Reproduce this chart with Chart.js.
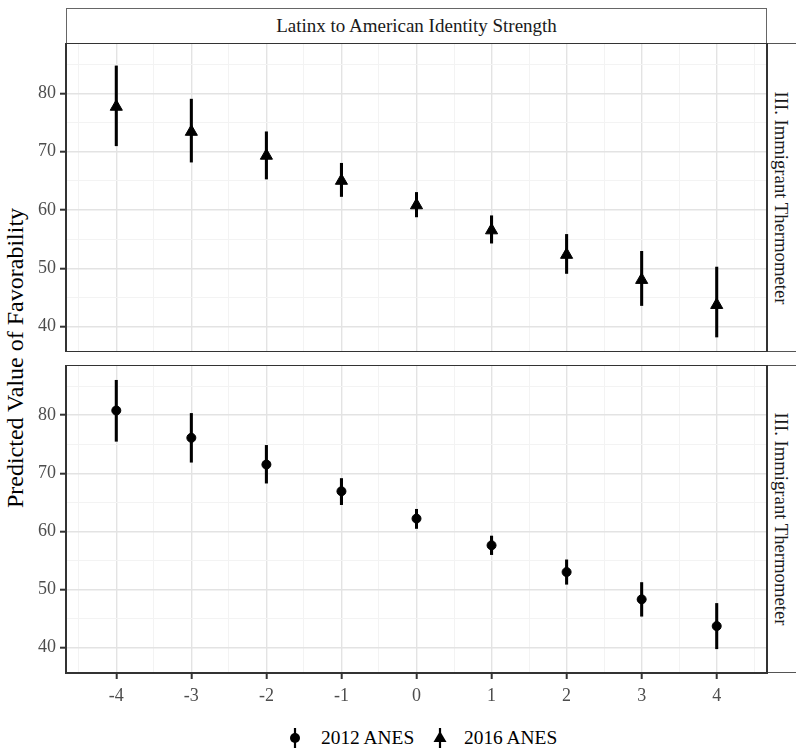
<!DOCTYPE html>
<html lang="en">
<head>
    <meta charset="UTF-8">
    <title>Predicted Value of Favorability</title>
    <script src="https://cdn.jsdelivr.net/npm/chart.js"></script>
    <style>
        body { margin: 0; background: #fff; }
        #wrap { position: relative; width: 796px; height: 750px; overflow: hidden; font-family: 'Liberation Serif', 'Times New Roman', serif; }
        #wrap canvas { position: absolute; left: 0; }
        .strip-top {
            position: absolute; left: 66px; top: 8px; width: 701px; height: 36px;
            box-sizing: border-box; border: 1.5px solid #666; background: #fff;
            text-align: center; line-height: 33px; font-size: 19px; color: #1a1a1a;
        }
        .strip-right {
            position: absolute; left: 766px; width: 50px;
            box-sizing: border-box; border: 1.5px solid #555; background: #fff;
        }
        .strip-right span {
            position: absolute; left: 14px; top: 50%; white-space: nowrap;
            transform: translate(-50%, -50%) rotate(90deg);
            font-size: 18.7px; color: #1a1a1a;
        }
        .y-title {
            position: absolute; left: 15px; top: 358px; white-space: nowrap;
            transform: translate(-50%, -50%) rotate(-90deg);
            font-size: 24px; color: #000;
        }
        .legend-item { position: absolute; top: 726px; height: 24px; display: flex; align-items: center; font-size: 19.4px; color: #000; }
    </style>
</head>
<body>
<div id="wrap">
    <div class="strip-top">Latinx to American Identity Strength</div>
    <div class="strip-right" style="top:43px;height:309px"><span>III. Immigrant Thermometer</span></div>
    <div class="strip-right" style="top:365px;height:308px"><span>III. Immigrant Thermometer</span></div>
    <div class="y-title">Predicted Value of Favorability</div>

    <canvas id="topChart" width="796" height="309" style="top:43px"></canvas>
    <canvas id="bottomChart" width="796" height="348" style="top:365px"></canvas>

    <!-- legend -->
    <div class="legend-item" style="left:289px">
        <svg width="12" height="24" style="margin-right:20px"><line x1="6" y1="2" x2="6" y2="22" stroke="#000" stroke-width="2.2"/><circle cx="6" cy="12" r="5" fill="#000"/></svg>
        <span>2012 ANES</span>
    </div>
    <div class="legend-item" style="left:433px">
        <svg width="14" height="24" style="margin-right:17px"><line x1="7" y1="2" x2="7" y2="22" stroke="#000" stroke-width="2.2"/><polygon points="7,5 13.5,16 0.5,16" fill="#000"/></svg>
        <span>2016 ANES</span>
    </div>
</div>

<script>
    // ---- data ----
    var strength = [-4, -3, -2, -1, 0, 1, 2, 3, 4];
    var xTickLabels = [-4, -3, -2, -1, 0, 1, 2, 3, 4];
    var xGrid = [-4.5, -4, -3.5, -3, -2.5, -2, -1.5, -1, -0.5, 0, 0.5, 1, 1.5, 2, 2.5, 3, 3.5, 4, 4.5];
    var yTickLabels = [40, 50, 60, 70, 80];
    var yGrid = [40, 45, 50, 55, 60, 65, 70, 75, 80, 85];

    // 2016 ANES (top panel)
    var fav2016 = [77.7, 73.4, 69.3, 65.0, 60.8, 56.5, 52.3, 48.0, 43.7];
    var low2016 = [71.0, 68.2, 65.3, 62.3, 58.8, 54.3, 49.1, 43.6, 38.2];
    var high2016 = [84.7, 79.0, 73.4, 68.0, 63.0, 59.0, 55.8, 52.9, 50.2];

    // 2012 ANES (bottom panel)
    var fav2012 = [80.8, 76.1, 71.5, 66.9, 62.2, 57.6, 53.0, 48.3, 43.7];
    var low2012 = [75.5, 71.9, 68.3, 64.6, 60.5, 56.0, 50.9, 45.4, 39.8];
    var high2012 = [86.0, 80.3, 74.8, 69.1, 63.8, 59.2, 55.1, 51.2, 47.6];

    var FONT = "'Liberation Serif', 'Times New Roman', serif";

    // draws the dark panel border round the plotting area
    var panelBorder = {
        id: 'panelBorder',
        afterDraw: function (chart) {
            var a = chart.chartArea, ctx = chart.ctx;
            ctx.save();
            ctx.strokeStyle = '#333333';
            ctx.lineWidth = 2;
            ctx.strokeRect(a.left, a.top, a.right - a.left, a.bottom - a.top);
            ctx.restore();
        }
    };

    function isMajor(list, c) {
        return !!(c.tick && list.indexOf(c.tick.value) >= 0);
    }

    function makePanel(canvasId, values, lows, highs, pointStyle, radius, showX) {
        var bars = strength.map(function (x, i) { return { x: x, y: [lows[i], highs[i]] }; });
        var pts = strength.map(function (x, i) { return { x: x, y: values[i] }; });

        return new Chart(document.getElementById(canvasId), {
            type: 'scatter',
            data: {
                datasets: [{
                    type: 'bar',
                    data: bars,
                    backgroundColor: '#000',
                    barThickness: 2.4,
                    grouped: false,
                    order: 1
                }, {
                    type: 'scatter',
                    data: pts,
                    pointStyle: pointStyle,
                    pointRadius: radius,
                    pointBackgroundColor: '#000',
                    pointBorderColor: '#000',
                    pointBorderWidth: 1,
                    order: 0
                }]
            },
            options: {
                responsive: false,
                animation: false,
                devicePixelRatio: 1,
                layout: { autoPadding: false, padding: { left: 0, right: 29, top: 0, bottom: 0 } },
                plugins: { legend: { display: false }, tooltip: { enabled: false } },
                scales: {
                    x: {
                        type: 'linear',
                        min: -4.67,
                        max: 4.67,
                        offset: false,
                        afterBuildTicks: function (scale) {
                            scale.ticks = xGrid.map(function (v) { return { value: v }; });
                        },
                        afterFit: function (scale) {
                            scale.height = showX ? 40 : 0;
                            scale.paddingLeft = 0;
                            scale.paddingRight = 0;
                        },
                        border: { display: false },
                        grid: {
                            offset: false,
                            color: function (c) { return isMajor(xTickLabels, c) ? '#e3e3e3' : '#f3f3f3'; },
                            lineWidth: function (c) { return isMajor(xTickLabels, c) ? 1.4 : 1; },
                            drawTicks: showX,
                            tickLength: 6,
                            tickWidth: 2,
                            tickColor: function (c) { return isMajor(xTickLabels, c) ? '#333' : 'rgba(0,0,0,0)'; }
                        },
                        ticks: {
                            display: showX,
                            autoSkip: false,
                            maxRotation: 0,
                            padding: 6,
                            color: '#4d4d4d',
                            font: { family: FONT, size: 18 },
                            callback: function (v) { return xTickLabels.indexOf(v) >= 0 ? String(v) : ''; }
                        }
                    },
                    y: {
                        type: 'linear',
                        min: 35.63,
                        max: 88.63,
                        afterBuildTicks: function (scale) {
                            scale.ticks = yGrid.map(function (v) { return { value: v }; });
                        },
                        afterFit: function (scale) {
                            scale.width = 66;
                            scale.paddingTop = 0;
                            scale.paddingBottom = 0;
                        },
                        border: { display: false },
                        grid: {
                            color: function (c) { return isMajor(yTickLabels, c) ? '#e3e3e3' : '#f3f3f3'; },
                            lineWidth: function (c) { return isMajor(yTickLabels, c) ? 1.4 : 1; },
                            tickLength: 6,
                            tickWidth: 2,
                            tickColor: function (c) { return isMajor(yTickLabels, c) ? '#333' : 'rgba(0,0,0,0)'; }
                        },
                        ticks: {
                            autoSkip: false,
                            padding: 4,
                            color: '#4d4d4d',
                            font: { family: FONT, size: 18 },
                            callback: function (v) { return yTickLabels.indexOf(v) >= 0 ? String(v) : ''; }
                        }
                    }
                }
            },
            plugins: [panelBorder]
        });
    }

    var topChart = makePanel('topChart', fav2016, low2016, high2016, 'triangle', 7, false);
    var bottomChart = makePanel('bottomChart', fav2012, low2012, high2012, 'circle', 4.5, true);
</script>
</body>
</html>
